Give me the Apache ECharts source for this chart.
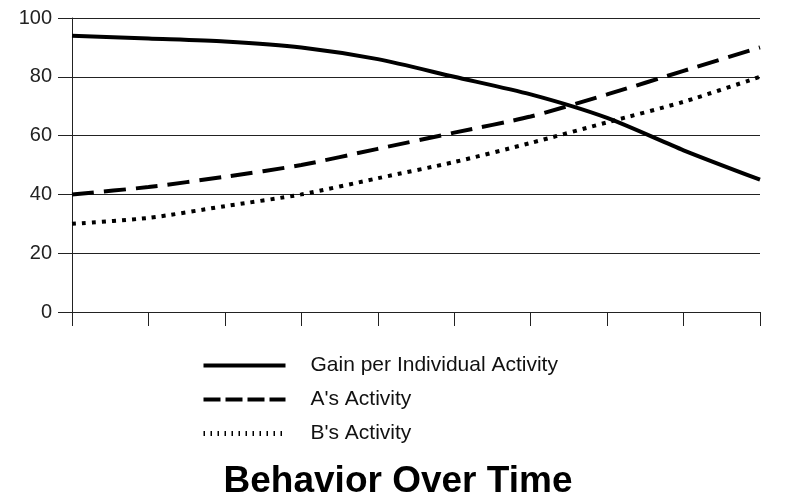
<!DOCTYPE html>
<html>
<head>
<meta charset="utf-8">
<script src="https://cdn.jsdelivr.net/npm/echarts@6/dist/echarts.min.js"></script>
<style>
html,body{margin:0;padding:0;background:#fff;}
#chart{width:796px;height:499px;}
</style>
</head>
<body>
<div id="chart"></div>
<script>
var timeSteps = ['0','1','2','3','4','5','6','7','8','9'];
var gainValues = [94, 93, 92, 90, 86, 80, 74, 66, 55, 45];
var aValues = [40, 42.5, 46, 50, 55.5, 61, 66.5, 74, 82, 90];
var bValues = [30, 32, 36, 40, 45.5, 51, 57.5, 64.5, 71.5, 80];
var yTicks = [0, 20, 40, 60, 80, 100];
var seriesNames = ['Gain per Individual Activity', "A's Activity", "B's Activity"];
var titleText = 'Behavior Over Time';

var chart = echarts.init(document.getElementById('chart'));
var axisColor = '#222';
chart.setOption({
  animation: false,
  backgroundColor: '#fff',
  title: {
    text: titleText,
    left: 'center',
    top: 463,
    padding: 0,
    textStyle: {fontFamily: 'Liberation Sans, Arial, sans-serif', fontWeight: 'bold', fontSize: 37, color: '#000'}
  },
  legend: {
    orient: 'vertical',
    left: 201,
    top: 355,
    padding: 0,
    itemWidth: 82,
    itemHeight: 14,
    itemGap: 13,
    itemStyle: {opacity: 0},
    textStyle: {fontFamily: 'Liberation Sans, Arial, sans-serif', fontSize: 21, color: '#111', padding: [0,0,0,20]},
    data: [
      {name: seriesNames[0], lineStyle: {width: 4, type: 'solid', color: '#000'}},
      {name: seriesNames[1], lineStyle: {width: 4, type: [17, 5], color: '#000'}},
      {name: seriesNames[2], lineStyle: {width: 5, type: [1.5, 5.5], color: '#000'}}
    ]
  },
  grid: {left: 72, right: 36, top: 18, bottom: 187},
  xAxis: {
    type: 'category',
    data: timeSteps,
    boundaryGap: false,
    axisLine: {show: true, lineStyle: {color: axisColor, width: 1}},
    axisTick: {show: true, length: 14, lineStyle: {color: axisColor, width: 1}},
    axisLabel: {show: false},
    splitLine: {show: false}
  },
  yAxis: {
    type: 'value',
    min: 0,
    max: 100,
    interval: 20,
    axisLine: {show: true, lineStyle: {color: axisColor, width: 1}},
    axisTick: {show: true, length: 14, lineStyle: {color: axisColor, width: 1}},
    axisLabel: {
      margin: 20,
      fontFamily: 'Liberation Sans, Arial, sans-serif',
      fontSize: 20,
      color: '#222',
      formatter: function (v) { return yTicks.indexOf(v) >= 0 ? String(v) : ''; }
    },
    splitLine: {show: true, lineStyle: {color: axisColor, width: 1}}
  },
  series: [
    {
      name: seriesNames[0], type: 'line', data: gainValues, smooth: 0.25,
      symbol: 'none', lineStyle: {color: '#000', width: 4, type: 'solid'}, itemStyle: {color: '#000'}
    },
    {
      name: seriesNames[1], type: 'line', data: aValues, smooth: 0.25,
      symbol: 'none', lineStyle: {color: '#000', width: 4, type: [22, 10], cap: 'butt'}, itemStyle: {color: '#000'}
    },
    {
      name: seriesNames[2], type: 'line', data: bValues, smooth: 0.25,
      symbol: 'none', lineStyle: {color: '#000', width: 4, type: [4, 6], cap: 'butt'}, itemStyle: {color: '#000'}
    }
  ]
});
</script>
</body>
</html>
